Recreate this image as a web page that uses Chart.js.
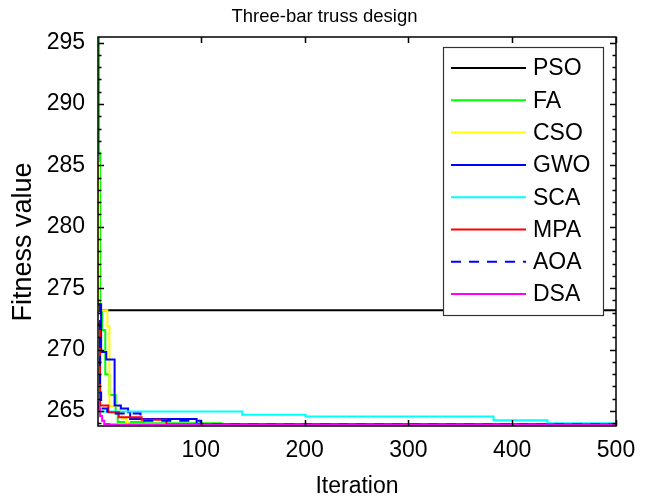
<!DOCTYPE html>
<html lang="en">

<head>
    <meta charset="UTF-8">
    <title>Three-bar truss design</title>
    <style>
        body {
            margin: 0;
            background: #fff;
        }

        #wrap {
            width: 649px;
            height: 500px;
        }
    </style>
    <script src="https://cdn.jsdelivr.net/npm/chart.js"></script>
</head>

<body>
    <div id="wrap"><canvas id="trussChart" width="649" height="500"></canvas></div>

    <script>
        // convergence curves, [iteration, best fitness] wherever the value changes
        const algorithms = ['PSO', 'FA', 'CSO', 'GWO', 'SCA', 'MPA', 'AOA', 'DSA'];
        const pso = [[1, 273.2], [500, 273.2]];
        const fa = [[1, 295.4], [2, 286.0], [3, 273.0], [5, 271.6], [8, 268.0], [12, 266.3], [18, 264.8], [20, 264.1], [45, 264.0], [120, 263.93], [500, 263.9]];
        const cso = [[1, 285.2], [2, 273.2], [10, 271.9], [12, 265.4], [22, 264.9], [24, 264.4], [28, 264.1], [31, 263.95], [200, 263.92], [500, 263.9]];
        const gwo = [[1, 273.7], [4, 269.8], [9, 269.2], [17, 265.45], [23, 265.2], [30, 264.9], [32, 264.35], [96, 263.92], [500, 263.9]];
        const sca = [[1, 266.5], [3, 264.97], [140, 264.7], [201, 264.55], [382, 264.25], [434, 264.0], [497, 263.93], [500, 263.93]];
        const mpa = [[1, 272.1], [3, 265.45], [11, 264.9], [21, 264.5], [43, 264.28], [67, 263.92], [500, 263.9]];
        const aoa = [[1, 273.7], [3, 266.5], [4, 265.2], [10, 264.8], [42, 264.2], [100, 263.95], [500, 263.9]];
        const dsa = [[1, 265.7], [2, 265.2], [3, 264.6], [5, 264.2], [7, 263.95], [12, 263.9], [500, 263.9]];

        const series = [pso, fa, cso, gwo, sca, mpa, aoa, dsa];
        const colors = ['#000000', '#00ff00', '#ffff00', '#0000ff', '#00ffff', '#ff0000', '#0000ff', '#ff00ff'];
        const dashes = [[], [], [], [], [], [], [10, 8], []];

        const xTicks = [100, 200, 300, 400, 500];
        const yTicks = [265, 270, 275, 280, 285, 290, 295];
        const yLabel = 'Fitness value';

        const fontFamily = '"Liberation Sans", Arial, Helvetica, sans-serif';
        Chart.defaults.color = '#000';
        Chart.defaults.font.family = fontFamily;

        // MATLAB style box: inward ticks on all four sides, y label, legend in the corner
        const matlabFrame = {
            id: 'matlabFrame',
            afterDatasetsDraw(chart) {
                const { ctx, chartArea: a, scales: { x, y } } = chart;
                ctx.save();
                ctx.strokeStyle = '#000';
                ctx.lineWidth = 1.5;
                ctx.strokeRect(a.left, a.top, a.right - a.left, a.bottom - a.top);
                ctx.beginPath();
                xTicks.forEach(v => {
                    const px = Math.round(x.getPixelForValue(v)) + 0.5;
                    ctx.moveTo(px, a.bottom);
                    ctx.lineTo(px, a.bottom - 6);
                    ctx.moveTo(px, a.top);
                    ctx.lineTo(px, a.top + 6);
                });
                for (let v = Math.ceil(y.min); v <= y.max; v++) {
                    const py = Math.round(y.getPixelForValue(v)) + 0.5;
                    const len = v % 5 === 0 ? 6 : 3.5;
                    ctx.moveTo(a.left, py);
                    ctx.lineTo(a.left + len, py);
                    ctx.moveTo(a.right, py);
                    ctx.lineTo(a.right - len, py);
                }
                ctx.stroke();

                // y axis title sits a bit below the middle in the original
                ctx.translate(24, 242);
                ctx.rotate(-Math.PI / 2);
                ctx.font = '27px ' + fontFamily;
                ctx.fillStyle = '#000';
                ctx.textAlign = 'center';
                ctx.textBaseline = 'middle';
                ctx.fillText(yLabel, 0, 0);
                ctx.restore();
            },
            afterDraw(chart) {
                const ctx = chart.ctx;
                const boxX = 443.5, boxY = 47.5, boxW = 160, boxH = 268;
                ctx.save();
                ctx.fillStyle = '#fff';
                ctx.fillRect(boxX, boxY, boxW, boxH);
                ctx.strokeStyle = '#333';
                ctx.lineWidth = 1.2;
                ctx.strokeRect(boxX, boxY, boxW, boxH);
                ctx.font = '23px ' + fontFamily;
                ctx.textBaseline = 'middle';
                ctx.textAlign = 'left';
                chart.data.datasets.forEach((ds, i) => {
                    const rowY = 68 + i * 32.3;
                    ctx.beginPath();
                    ctx.strokeStyle = ds.borderColor;
                    ctx.lineWidth = 2;
                    ctx.setLineDash(ds.borderDash || []);
                    ctx.moveTo(451, rowY);
                    ctx.lineTo(526, rowY);
                    ctx.stroke();
                    ctx.setLineDash([]);
                    ctx.fillStyle = '#000';
                    ctx.fillText(ds.label, 533, rowY + 1);
                });
                ctx.restore();
            }
        };

        const datasets = algorithms.map((name, i) => ({
            label: name,
            data: series[i].map(([x, y]) => ({ x, y })),
            borderColor: colors[i],
            borderDash: dashes[i],
            borderWidth: 2,
            pointRadius: 0,
            stepped: true,
            fill: false,
            order: algorithms.length - i
        }));

        new Chart(document.getElementById('trussChart'), {
            type: 'line',
            data: { datasets },
            options: {
                responsive: false,
                animation: false,
                layout: { padding: 0 },
                plugins: {
                    legend: { display: false },
                    tooltip: { enabled: false },
                    title: {
                        display: true,
                        text: 'Three-bar truss design',
                        font: { size: 18.5, weight: 'normal' },
                        padding: { top: 6, bottom: 8.8 }
                    }
                },
                scales: {
                    x: {
                        type: 'linear',
                        min: 1,
                        max: 500,
                        grid: { display: false, drawTicks: false },
                        border: { display: false },
                        afterBuildTicks: s => { s.ticks = xTicks.map(v => ({ value: v })); },
                        afterFit: s => { s.height = 74; s.paddingLeft = 0; s.paddingRight = 33; },
                        ticks: { font: { size: 23 }, padding: 11, maxRotation: 0 },
                        title: { display: true, text: 'Iteration', font: { size: 23 }, padding: { top: 0, bottom: 0 } }
                    },
                    y: {
                        min: 263.78,
                        max: 295.45,
                        grid: { display: false, drawTicks: false },
                        border: { display: false },
                        afterBuildTicks: s => { s.ticks = yTicks.map(v => ({ value: v })); },
                        afterFit: s => { s.width = 98; s.paddingTop = 0; s.paddingBottom = 0; },
                        ticks: { font: { size: 23 }, padding: 13 }
                    }
                }
            },
            plugins: [matlabFrame]
        });
    </script>
</body>

</html>
